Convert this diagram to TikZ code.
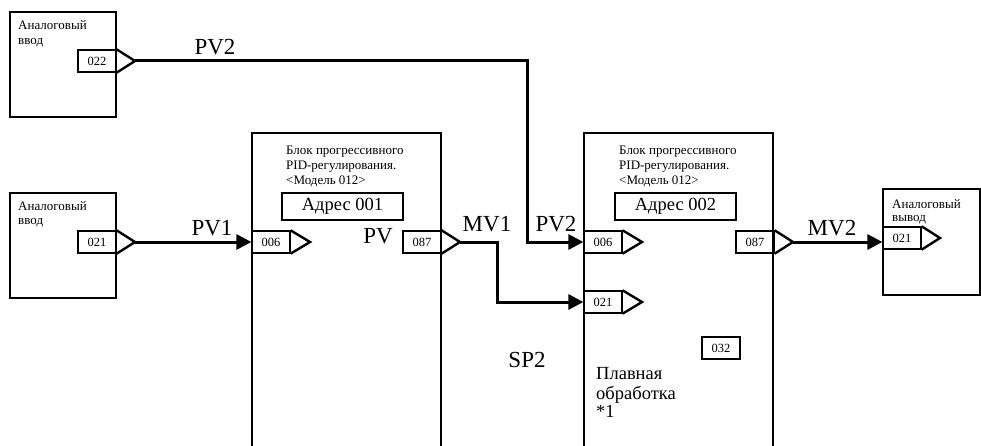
\documentclass[tikz,border=0pt]{standalone}
\usepackage{fontspec}
\setmainfont{Liberation Serif}
\usetikzlibrary{arrows.meta}
\begin{document}
\begin{tikzpicture}[x=1pt,y=-1pt,
  box/.style={draw,line width=1.4pt},
  port/.style={draw,line width=1.3pt,minimum width=38pt,minimum height=22pt,inner sep=0pt,font=\fontsize{12.5}{12.5}\selectfont},
  tri/.style={line width=2.4pt,line join=miter},
  wire/.style={line width=3pt},
  arr/.style={wire,-{Triangle[length=15pt,width=15pt]}},
  small/.style={font=\fontsize{13}{14}\selectfont,anchor=base west,inner sep=0pt},
  mid/.style={font=\fontsize{13}{15}\selectfont,anchor=base west,inner sep=0pt},
  note/.style={font=\fontsize{18.5}{18.5}\selectfont,anchor=base west,inner sep=0pt},
  big/.style={font=\fontsize{23}{23}\selectfont,anchor=base,inner sep=0pt},
  addr/.style={draw,line width=1.4pt,minimum width=121pt,minimum height=27pt,inner sep=0pt,font=\fontsize{18.5}{18.5}\selectfont},
]
\useasboundingbox (0,0) rectangle (981,446);

% Analog input boxes
\draw[box] (10,12) rectangle (116,117);
\node[small] (ta1) at (18,30) {Аналоговый};
\node[small] (ta2) at (18,45) {ввод};
\node[port] (p022) at (97,61) {022};
\coordinate (a022) at (135,61);
\draw[tri] (p022.north east) -- (a022) -- (p022.south east);

\draw[box] (10,193) rectangle (116,298);
\node[small] (tb1) at (18,211) {Аналоговый};
\node[small] (tb2) at (18,225) {ввод};
\node[port] (pb021) at (97,242) {021};
\coordinate (ab021) at (135,242);
\draw[tri] (pb021.north east) -- (ab021) -- (pb021.south east);

% Block 1
\draw[box] (252,446) -- (252,133) -- (441,133) -- (441,446);
\node[mid] (t11) at (286,155) {Блок прогрессивного};
\node[mid] (t12) at (286,170) {PID-регулирования.};
\node[mid] (t13) at (286,185) {<Модель 012>};
\node[addr] (ad1) at (342.5,206.5) {Адрес 001};
\node[port] (b1in) at (271,242) {006};
\coordinate (ab1in) at (310,242);
\draw[tri] (b1in.north east) -- (ab1in) -- (b1in.south east);
\node[port] (b1out) at (422,242) {087};
\coordinate (ab1out) at (460,242);
\draw[tri] (b1out.north east) -- (ab1out) -- (b1out.south east);
\node[big] (lpv) at (378,243) {PV};

% Block 2
\draw[box] (584,446) -- (584,133) -- (773,133) -- (773,446);
\node[mid] (t21) at (619,155) {Блок прогрессивного};
\node[mid] (t22) at (619,170) {PID-регулирования.};
\node[mid] (t23) at (619,185) {<Модель 012>};
\node[addr] (ad2) at (675.5,206.5) {Адрес 002};
\node[port] (b2in1) at (603,242) {006};
\coordinate (ab2in1) at (642,242);
\draw[tri] (b2in1.north east) -- (ab2in1) -- (b2in1.south east);
\node[port] (b2in2) at (603,302) {021};
\coordinate (ab2in2) at (642,302);
\draw[tri] (b2in2.north east) -- (ab2in2) -- (b2in2.south east);
\node[port] (b2out) at (755,242) {087};
\coordinate (ab2out) at (793,242);
\draw[tri] (b2out.north east) -- (ab2out) -- (b2out.south east);
\node[port] (p032) at (721,348) {032};
\node[note] (n1) at (596,379) {Плавная};
\node[note] (n2) at (596,399) {обработка};
\node[note] (n3) at (596,417) {*1};

% Analog output
\draw[box] (883,189) rectangle (980,295);
\node[small] (tc1) at (892,208) {Аналоговый};
\node[small] (tc2) at (892,222) {вывод};
\node[port] (pc021) at (902,238) {021};
\coordinate (apc021) at (940,238);
\draw[tri] (pc021.north east) -- (apc021) -- (pc021.south east);

% Wires
\coordinate (pv2x) at (527,0);
\coordinate (mv1x) at (497,0);
\draw[arr] (a022) -- (a022 -| pv2x) |- (b2in1.west);
\draw[arr] (ab021) -- (b1in.west);
\draw[arr] (ab1out) -- (ab1out -| mv1x) |- (b2in2.west);
\draw[arr] (ab2out) -- (ab2out -| pc021.west);

% Labels
\node[big] (lpv2a) at (215,55) {PV2};
\node[big] (lpv1) at (212,236) {PV1};
\node[big] (lmv1) at (487,231) {MV1};
\node[big] (lpv2b) at (556,231) {PV2};
\node[big] (lmv2) at (832,235) {MV2};
\node[big] (lsp2) at (527,367) {SP2};
\end{tikzpicture}
\end{document}
